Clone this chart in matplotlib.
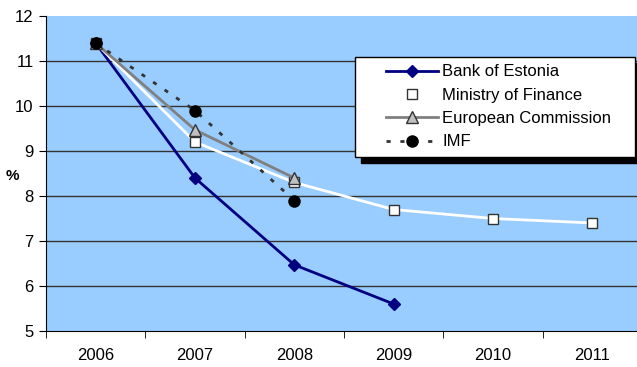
import matplotlib
matplotlib.use("Agg")
import matplotlib.pyplot as plt
from matplotlib.lines import Line2D
from matplotlib.legend_handler import HandlerLine2D
import numpy as np

plt.rcParams['font.family'] = ['Liberation Sans', 'DejaVu Sans']

years = ['2006', '2007', '2008', '2009', '2010', '2011']
bank_estonia = [11.4, 8.4, 6.47, 5.6]
min_finance = [11.4, 9.2, 8.3, 7.7, 7.5, 7.4]
euro_comm = [11.4, 9.47, 8.4]
imf = [11.4, 9.9, 7.9]

fig = plt.figure(figsize=(6.37, 3.67), dpi=100)
ax = fig.add_axes([46/637, 1-331/367, (642-46)/637, (331-16)/367])
ax.set_facecolor('#99CCFF')

x = np.arange(len(years))

# grid lines
for v in range(6, 12):
    ax.axhline(v, color='#333333', lw=1, zorder=1)

ax.plot(x[:len(bank_estonia)], bank_estonia, color='#000080', lw=2,
        marker='D', ms=6, mfc='#000080', mec='#000080', label='Bank of Estonia', zorder=3)
ax.plot(x[:len(min_finance)], min_finance, color='white', lw=2,
        marker='s', ms=7, mfc='white', mec='#333333', label='Ministry of Finance', zorder=3)
ax.plot(x[:len(euro_comm)], euro_comm, color='#808080', lw=2,
        marker='^', ms=8, mfc='#C0C0C0', mec='#333333', label='European Commission', zorder=4)
ax.plot(x[:len(imf)], imf, color='#333333', lw=2, ls=(0, (1.5, 3.5)),
        marker='o', ms=8, mfc='black', mec='black', label='IMF', zorder=4)

ax.set_xlim(-0.5, 5.5)
ax.set_ylim(5, 12)
ax.set_yticks(range(5, 13))
ax.set_xticks(x)
ax.set_xticklabels(years)
ax.set_xticks(np.arange(-0.5, 6, 1), minor=True)
ax.tick_params(axis='x', which='major', length=0, labelsize=12, pad=12)
ax.tick_params(axis='x', which='minor', length=5, direction='out')
ax.tick_params(axis='y', length=5, direction='out', labelsize=12, pad=4)

for s in ['top', 'right']:
    ax.spines[s].set_visible(False)
ax.spines['left'].set_color('black')
ax.spines['bottom'].set_color('black')

fig.text(12/637, 1-176/367, '%', fontsize=11, fontweight='bold', ha='center', va='center')

leg = ax.legend(loc='upper left', bbox_to_anchor=(355/637, 1-157/367, 280/637, 100/367),
                bbox_transform=fig.transFigure, mode='expand', borderaxespad=0,
                fancybox=False,
                shadow={'color': 'black', 'alpha': 1, 'ox': 4, 'oy': -4},
                edgecolor='black', framealpha=1, fontsize=12, handlelength=4.5,
                borderpad=0.45, labelspacing=0.5, handletextpad=0.3,
                handler_map={Line2D: HandlerLine2D(xpad=1.4)})
leg.get_frame().set_linewidth(1)

fig.savefig('out.png', dpi=100)
